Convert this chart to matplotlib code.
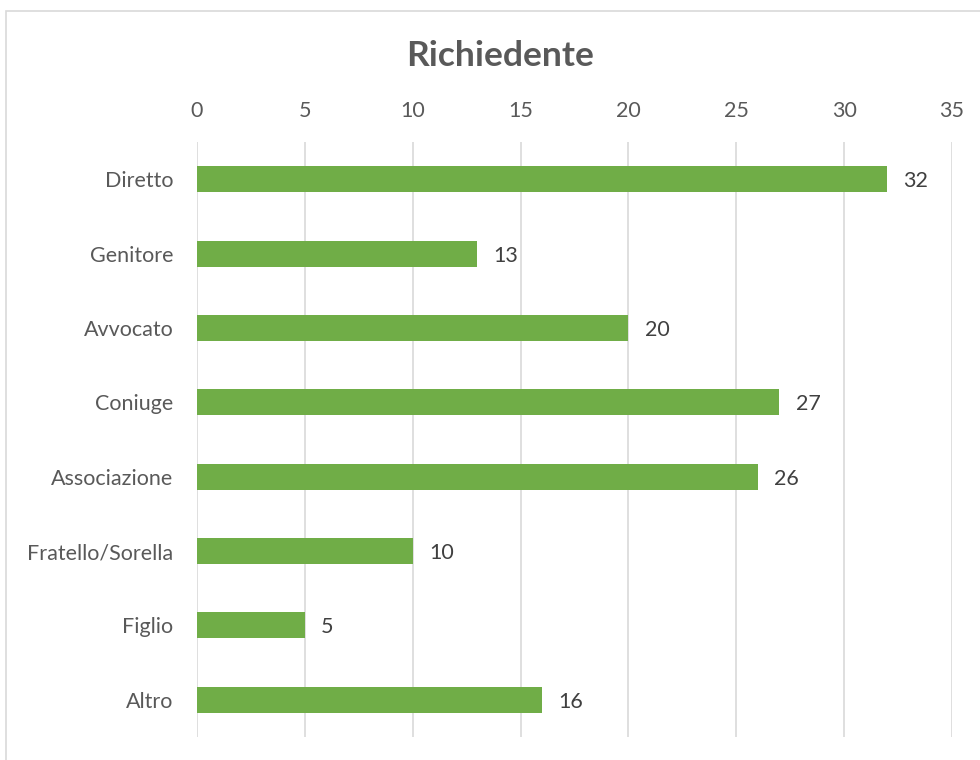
import matplotlib
matplotlib.use("Agg")
import matplotlib.pyplot as plt
from matplotlib.patches import Rectangle

# Dati
categorie = ["Diretto", "Genitore", "Avvocato", "Coniuge", "Associazione",
             "Fratello/Sorella", "Figlio", "Altro"]
valori = [32, 13, 20, 27, 26, 10, 5, 16]
ticks_x = [0, 5, 10, 15, 20, 25, 30, 35]

plt.rcParams["font.family"] = ["Lato", "DejaVu Sans"]
grigio_testo = "#595959"
verde = "#70AD47"

fig = plt.figure(figsize=(9.8, 7.6), dpi=100)
fig.patch.set_facecolor("white")

# bordo del grafico (tagliato a destra e in basso)
fig.patches.append(Rectangle((6 / 980, -0.05), 1.2, 1 - 11 / 760 + 0.05,
                             transform=fig.transFigure, fill=False,
                             edgecolor="#d9d9d9", linewidth=1.2))

ax = fig.add_axes([197 / 980, 1 - 737 / 760, (952 - 197) / 980, (737 - 142) / 760])
y = list(range(len(categorie)))
ax.barh(y, valori, height=0.35, color=verde, zorder=3)
ax.set_ylim(len(categorie) - 0.5, -0.5)
ax.set_xlim(0, 35)
ax.set_yticks(y)
ax.set_yticklabels(categorie)
ax.set_xticks(ticks_x)
ax.xaxis.tick_top()
ax.tick_params(axis="both", length=0, labelsize=15.5, colors=grigio_testo)
ax.tick_params(axis="x", pad=15)
ax.tick_params(axis="y", pad=17)
ax.grid(axis="x", color="#d9d9d9", linewidth=1.2, zorder=0)
for s in ax.spines.values():
    s.set_visible(False)

for yi, v in zip(y, valori):
    ax.text(v + 0.75, yi, str(v), va="center_baseline", ha="left", fontsize=15.5,
            color="#404040")

fig.text(500 / 980, 1 - 56 / 760, "Richiedente", ha="center", va="center",
         fontsize=25.5, fontweight="bold", color=grigio_testo)

fig.savefig("out.png", dpi=100)
